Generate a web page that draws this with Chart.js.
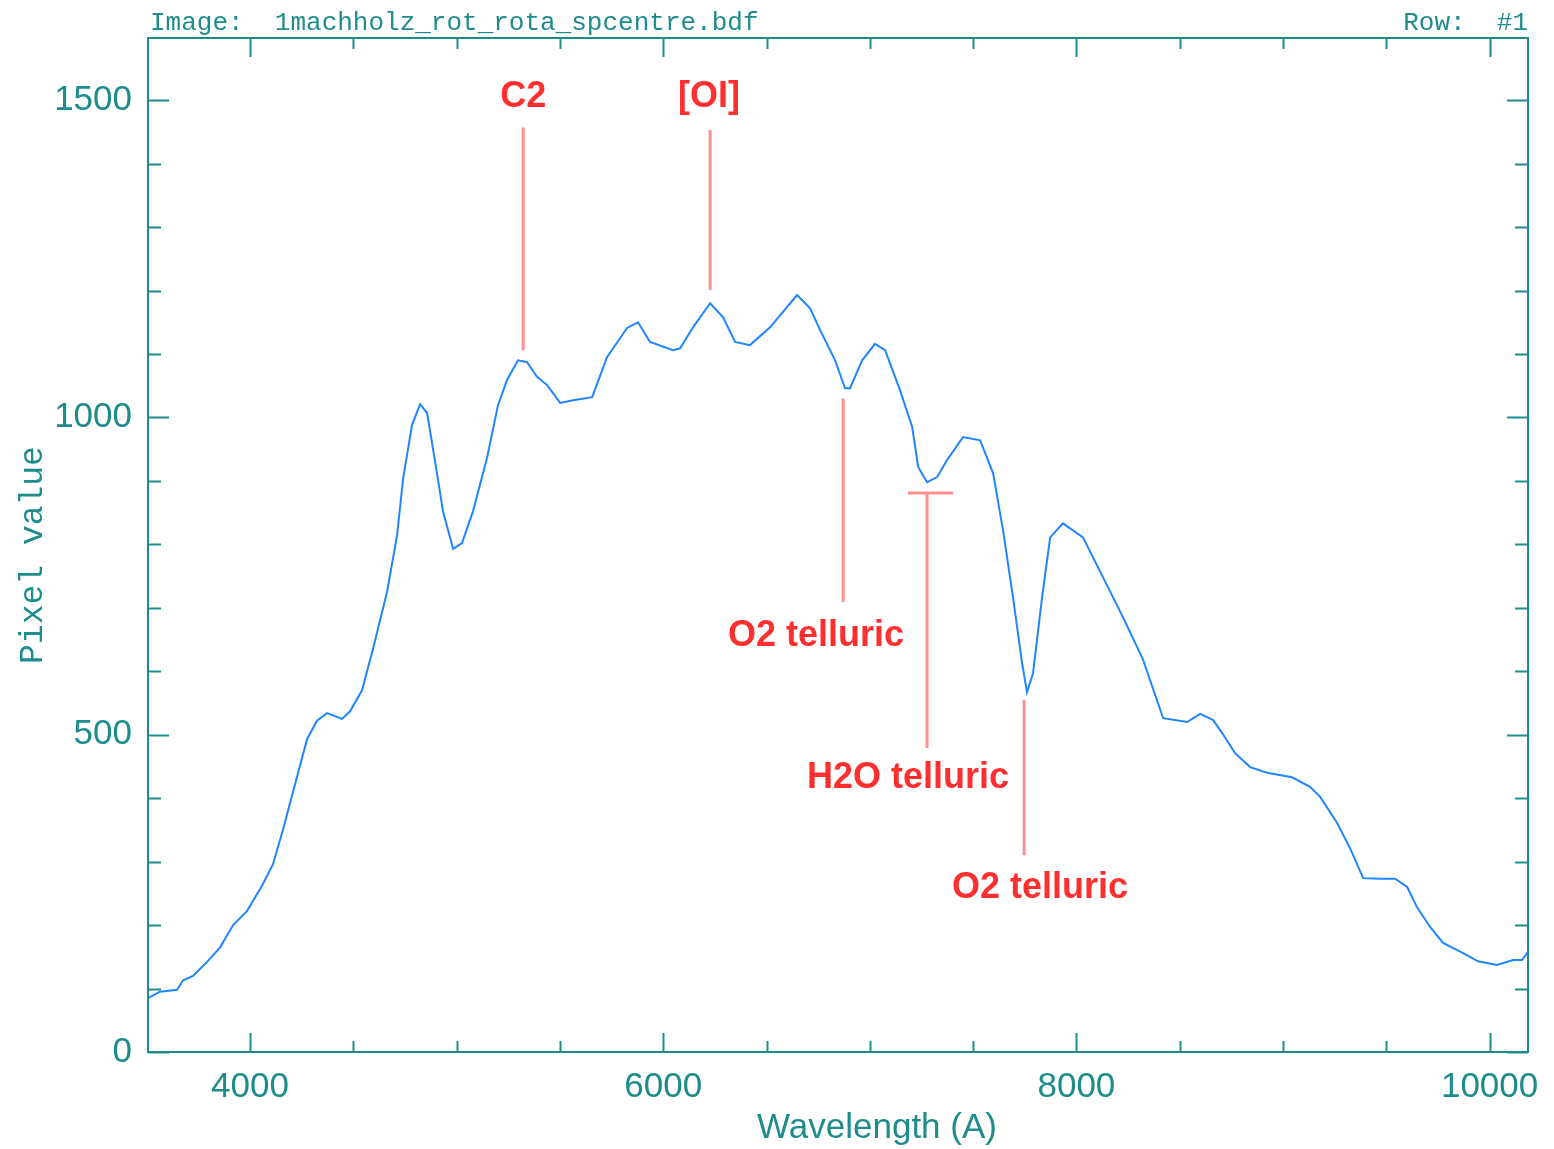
<!DOCTYPE html>
<html>
<head>
<meta charset="utf-8">
<script src="https://cdn.jsdelivr.net/npm/chart.js@4.4.1/dist/chart.umd.min.js"></script>
<style>
  html, body { margin: 0; padding: 0; background: #ffffff; }
  #wrap { width: 1554px; height: 1149px; }
</style>
</head>
<body>
<div id="wrap"><canvas id="c" width="1554" height="1149"></canvas></div>
<script>
// ---- data ----
const wavelength = [3506,3564,3647,3676,3724,3792,3855,3918,3985,4058,4111,4160,4208,4276,4324,4373,4445,4484,4542,4595,4663,4712,4741,4784,4823,4857,4896,4934,4983,5026,5079,5147,5200,5244,5297,5341,5389,5438,5501,5564,5656,5728,5825,5878,5936,6048,6082,6144,6227,6290,6348,6420,6517,6648,6711,6759,6832,6880,6904,6963,7025,7074,7146,7205,7234,7277,7326,7374,7451,7534,7597,7645,7693,7737,7761,7790,7834,7873,7935,8032,8129,8226,8323,8420,8536,8599,8662,8705,8768,8841,8923,9044,9131,9180,9262,9325,9388,9470,9543,9601,9649,9712,9775,9872,9944,10036,10114,10157,10186];
const pixelValue = [85,95,98,113,120,142,165,200,222,262,296,351,410,493,522,534,525,537,570,635,725,815,904,988,1021,1007,930,852,793,802,852,936,1019,1059,1090,1087,1064,1051,1023,1027,1032,1095,1141,1150,1119,1106,1109,1142,1180,1158,1119,1114,1142,1193,1172,1138,1090,1046,1046,1090,1116,1106,1043,985,922,898,906,933,969,964,912,822,717,613,567,597,717,811,833,811,748,685,618,526,520,533,523,503,471,449,440,433,418,402,361,321,274,273,273,260,228,197,172,156,143,137,145,145,158];

const xTickLabels = [4000, 6000, 8000, 10000];
const yTickLabels = [0, 500, 1000, 1500];
const xMinorStep = 500;
const yMinorStep = 100;

const titleLeft = "Image:  1machholz_rot_rota_spcentre.bdf";
const titleRight = "Row:  #1";
const xTitle = "Wavelength (A)";
const yTitle = "Pixel value";

// line identifications: label, line wavelength, line top/bottom value, label position
const lineIds = [
  { text: "C2",           x: 5322, y1: 1457, y2: 1106, lx: 5322, ly: 1505, bar: false },
  { text: "[OI]",         x: 6227, y1: 1453, y2: 1201, lx: 6222, ly: 1505, bar: false },
  { text: "O2 telluric",  x: 6871, y1: 1030, y2: 709,  lx: 6740, ly: 655,  bar: false },
  { text: "H2O telluric", x: 7277, y1: 881,  y2: 479,  lx: 7185, ly: 432,  bar: true, bx1: 7185, bx2: 7403 },
  { text: "O2 telluric",  x: 7747, y1: 555,  y2: 310,  lx: 7824, ly: 258,  bar: false }
];

const TEAL = '#1f8c8c';
const RED_TXT = '#ff2f2f';
const RED_LINE = 'rgba(255,70,70,0.6)';

const framePlugin = {
  id: 'frame',
  afterDraw(chart) {
    const ctx = chart.ctx;
    const a = chart.chartArea;
    const xs = chart.scales.x, ys = chart.scales.y;
    ctx.save();
    ctx.strokeStyle = TEAL;
    ctx.lineWidth = 2;
    ctx.strokeRect(a.left, a.top, a.right - a.left, a.bottom - a.top);
    ctx.beginPath();
    for (let v = Math.ceil(xs.min / xMinorStep) * xMinorStep; v <= xs.max; v += xMinorStep) {
      const px = Math.round(xs.getPixelForValue(v)) + 0.5;
      const len = xTickLabels.includes(v) ? 19 : 11;
      ctx.moveTo(px, a.bottom); ctx.lineTo(px, a.bottom - len);
      ctx.moveTo(px, a.top); ctx.lineTo(px, a.top + len);
    }
    for (let v = Math.ceil(ys.min / yMinorStep) * yMinorStep; v <= ys.max; v += yMinorStep) {
      const py = Math.round(ys.getPixelForValue(v)) + 0.5;
      const len = yTickLabels.includes(v) ? 21 : 13;
      ctx.moveTo(a.left, py); ctx.lineTo(a.left + len, py);
      ctx.moveTo(a.right, py); ctx.lineTo(a.right - len, py);
    }
    ctx.stroke();

    // titles
    ctx.fillStyle = TEAL;
    ctx.font = '26px "Liberation Mono", "DejaVu Sans Mono", monospace';
    ctx.textBaseline = 'alphabetic';
    ctx.textAlign = 'left';
    ctx.fillText(titleLeft, 150, 30);
    ctx.textAlign = 'right';
    ctx.fillText(titleRight, 1528, 30);

    ctx.font = '35px "Liberation Sans", Arial, sans-serif';
    ctx.textAlign = 'center';
    ctx.textBaseline = 'middle';
    ctx.fillText(xTitle, 877, 1128);

    ctx.save();
    ctx.translate(33, 555);
    ctx.rotate(-Math.PI / 2);
    ctx.font = '33px "Liberation Mono", "DejaVu Sans Mono", monospace';
    ctx.fillText(yTitle, 0, 0);
    ctx.restore();

    // line identifications
    ctx.strokeStyle = RED_LINE;
    ctx.lineWidth = 3;
    for (const L of lineIds) {
      const px = xs.getPixelForValue(L.x);
      ctx.beginPath();
      ctx.moveTo(px, ys.getPixelForValue(L.y1));
      ctx.lineTo(px, ys.getPixelForValue(L.y2));
      if (L.bar) {
        const by = ys.getPixelForValue(L.y1);
        ctx.moveTo(xs.getPixelForValue(L.bx1), by);
        ctx.lineTo(xs.getPixelForValue(L.bx2), by);
      }
      ctx.stroke();
    }
    ctx.fillStyle = RED_TXT;
    ctx.font = 'bold 36px "Liberation Sans", Arial, sans-serif';
    ctx.textAlign = 'center';
    ctx.textBaseline = 'middle';
    for (const L of lineIds) {
      ctx.fillText(L.text, xs.getPixelForValue(L.lx), ys.getPixelForValue(L.ly));
    }
    ctx.restore();
  }
};

new Chart(document.getElementById('c'), {
  type: 'line',
  data: {
    datasets: [{
      data: wavelength.map((w, i) => ({ x: w, y: pixelValue[i] })),
      borderColor: '#1f86ff',
      borderWidth: 2,
      pointRadius: 0,
      tension: 0,
      fill: false
    }]
  },
  options: {
    responsive: false,
    devicePixelRatio: 1,
    animation: false,
    layout: { padding: { left: 0, right: 26, top: 38, bottom: 0 } },
    plugins: { legend: { display: false }, tooltip: { enabled: false }, title: { display: false } },
    scales: {
      x: {
        type: 'linear',
        min: 3506,
        max: 10186,
        grid: { display: false, drawTicks: false },
        border: { display: false },
        afterBuildTicks(s) { s.ticks = xTickLabels.map(v => ({ value: v })); },
        afterFit(s) { s.height = 97; },
        ticks: {
          color: TEAL,
          font: { family: '"Liberation Sans", Arial, sans-serif', size: 35 },
          padding: 14,
          maxRotation: 0,
          autoSkip: false,
          callback: v => String(v)
        }
      },
      y: {
        type: 'linear',
        min: 0,
        max: 1598,
        grid: { display: false, drawTicks: false },
        border: { display: false },
        afterBuildTicks(s) { s.ticks = yTickLabels.map(v => ({ value: v })); },
        afterFit(s) { s.width = 148; },
        ticks: {
          color: TEAL,
          font: { family: '"Liberation Sans", Arial, sans-serif', size: 35 },
          padding: 16,
          autoSkip: false,
          callback: v => String(v)
        }
      }
    }
  },
  plugins: [framePlugin]
});
</script>
</body>
</html>
